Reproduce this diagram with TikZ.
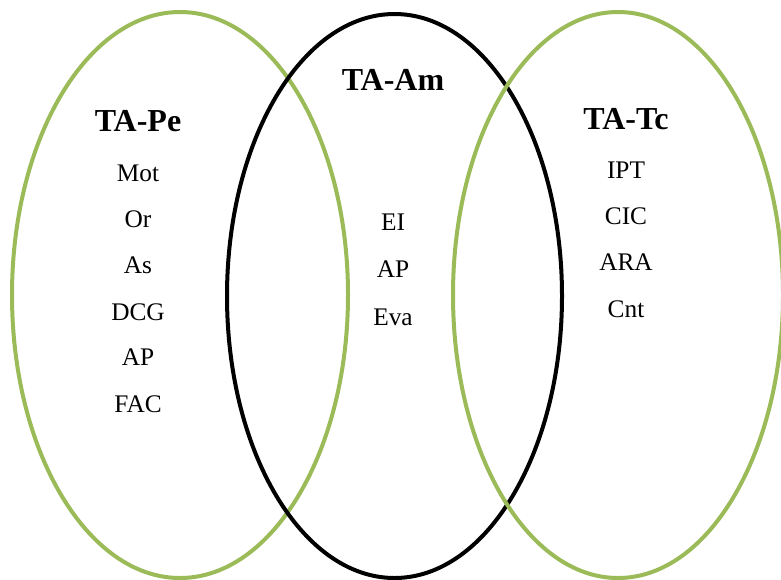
\documentclass[tikz,border=0pt]{standalone}
\usepackage{fontspec}
\setmainfont{Liberation Serif}
\usepackage{xcolor}
\usepackage{tikz}
\usetikzlibrary{positioning}

\definecolor{setgreen}{HTML}{9BBB59}

\begin{document}
\begin{tikzpicture}[
        x=0.75pt, y=-0.75pt,
        greenset/.style={draw=setgreen, line width=3pt},
        blackset/.style={draw=black, line width=3pt},
        title/.style={anchor=base, font=\fontsize{24}{28}\selectfont\bfseries},
        item/.style={anchor=base, font=\fontsize{19}{22}\selectfont},
    ]
    \useasboundingbox (0,0) rectangle (781,579);

    % the three sets
    \draw[greenset] (180,295) ellipse (168 and 283);
    \draw[blackset] (394.5,296) ellipse (167.5 and 282);
    \draw[greenset] (618,295) ellipse (165 and 283);

    % left set
    \node[title] (pe) at (138,131) {TA-Pe};
    \node[item] (mot) at (138,181) {Mot};
    \node[item] (or) at (138,227) {Or};
    \node[item] (as) at (138,273.5) {As};
    \node[item] (dcg) at (138,320) {DCG};
    \node[item] (apl) at (138,365) {AP};
    \node[item] (fac) at (138,412.5) {FAC};

    % middle set
    \node[title] (am) at (393,90) {TA-Am};
    \node[item] (ei) at (393,230.5) {EI};
    \node[item] (apm) at (393,277) {AP};
    \node[item] (eva) at (393,325.5) {Eva};

    % right set
    \node[title] (tc) at (626,129) {TA-Tc};
    \node[item] (ipt) at (626,178.5) {IPT};
    \node[item] (cic) at (626,224.5) {CIC};
    \node[item] (ara) at (626,270.5) {ARA};
    \node[item] (cnt) at (626,317.5) {Cnt};
\end{tikzpicture}
\end{document}
